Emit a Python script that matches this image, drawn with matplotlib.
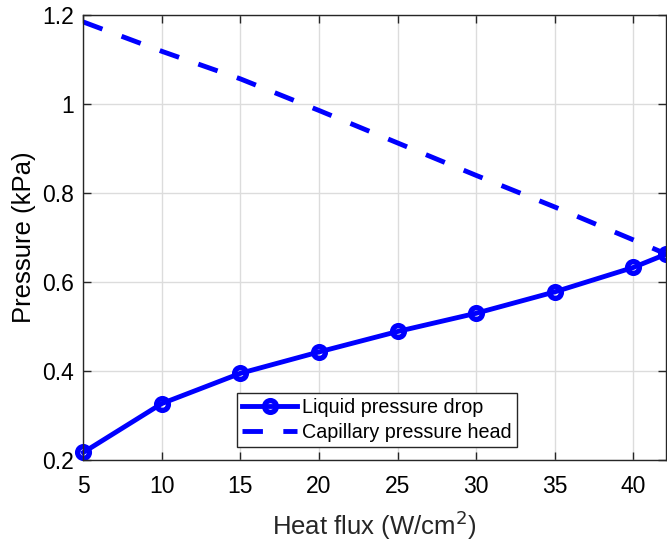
import numpy as np
import matplotlib
matplotlib.use('Agg')
import matplotlib.pyplot as plt
from matplotlib.ticker import FuncFormatter

heat_flux = [5, 10, 15, 20, 25, 30, 35, 40, 42.1]
liquid_drop = [0.217, 0.327, 0.395, 0.443, 0.489, 0.530, 0.578, 0.633, 0.663]
capillary_head = [1.185, 1.119, 1.057, 0.986, 0.913, 0.840, 0.769, 0.695, 0.663]

x_ticks = [5, 10, 15, 20, 25, 30, 35, 40]
y_ticks = [0.2, 0.4, 0.6, 0.8, 1.0, 1.2]

plt.rcParams['font.family'] = ['Liberation Sans', 'DejaVu Sans']

fig = plt.figure(figsize=(6.67, 5.47), dpi=100)
ax = fig.add_axes([83.3 / 667, 87 / 547, 583 / 667, 444.7 / 547])

ax.plot(heat_flux, liquid_drop, color='blue', lw=3.5, marker='o', ms=8.5,
        mfc='none', mec='blue', mew=3.8, label='Liquid pressure drop', clip_on=False)
ax.plot(heat_flux, capillary_head, color='blue', lw=3.5, dashes=(4.2, 4.2),
        label='Capillary pressure head')

ax.set_xlim(5, 42.1)
ax.set_ylim(0.2, 1.2)
ax.set_xticks(x_ticks)
ax.set_yticks(y_ticks)
ax.yaxis.set_major_formatter(FuncFormatter(lambda v, p: '%g' % v))

ax.grid(True, color='#dcdcdc', lw=1)
ax.set_axisbelow(True)
for s in ax.spines.values():
    s.set_color('#262626')
    s.set_linewidth(1)
ax.tick_params(direction='in', length=6, width=1, top=True, right=True,
               colors='#262626', labelsize=16.5)
ax.tick_params(axis='x', pad=11)
ax.tick_params(axis='y', pad=7)
for lab in ax.get_xticklabels() + ax.get_yticklabels():
    lab.set_color('black')

ax.set_xlabel('Heat flux (W/cm$^2$)', fontsize=18.5, color='#262626', labelpad=7)
ax.set_ylabel('Pressure (kPa)', fontsize=18.5, color='black', labelpad=4)

leg = ax.legend(loc='lower left', bbox_to_anchor=(237 / 667, 100 / 547),
                bbox_transform=fig.transFigure, borderaxespad=0, fontsize=14.2,
                fancybox=False, framealpha=1, edgecolor='#262626',
                handlelength=2.8, handletextpad=0.25, borderpad=0.25, labelspacing=0.3)
leg.get_frame().set_linewidth(1)

fig.savefig('out.png', dpi=100)
